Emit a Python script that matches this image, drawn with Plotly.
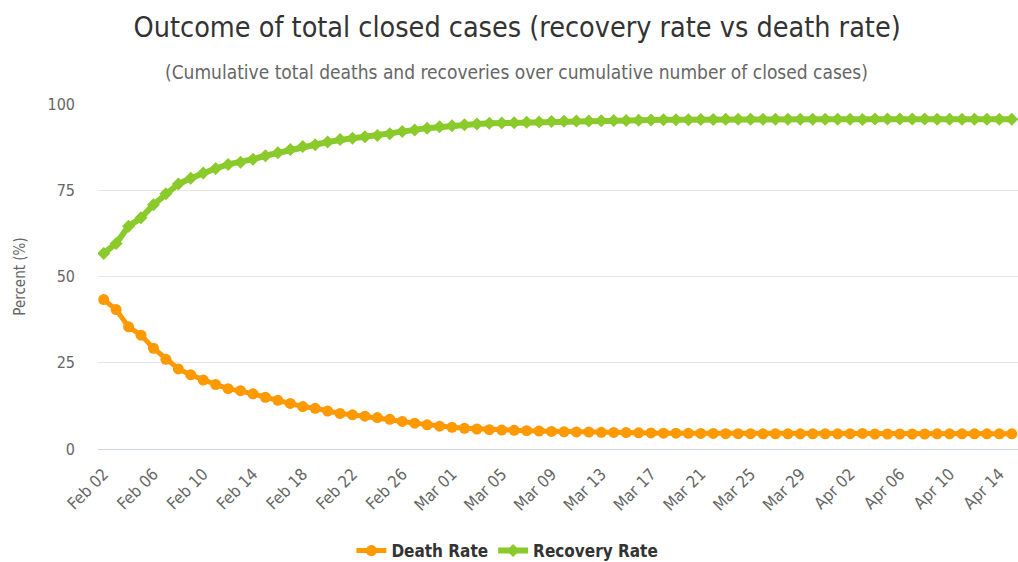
import pandas as pd
import plotly.graph_objects as go

start_date = "2020-02-02"
death_rate = [43.3, 40.4, 35.4, 33.0, 29.2, 26.0, 23.2, 21.5, 20.0, 18.7,
              17.5, 16.9, 16.0, 15.0, 14.1, 13.2, 12.3, 11.8, 11.0, 10.3,
              9.9, 9.5, 9.1, 8.6, 8.0, 7.5, 7.0, 6.6, 6.3, 6.0,
              5.8, 5.6, 5.5, 5.4, 5.3, 5.2, 5.1, 5.0, 4.95, 4.9,
              4.85, 4.8, 4.75, 4.7, 4.65, 4.6, 4.6, 4.55, 4.5, 4.5,
              4.45, 4.45, 4.45, 4.4, 4.4, 4.4, 4.4, 4.4, 4.4, 4.4,
              4.45, 4.5, 4.35, 4.35, 4.35, 4.35, 4.35, 4.4, 4.4, 4.4,
              4.4, 4.4, 4.4, 4.4]
recovery_rate = [56.7, 59.6, 64.6, 67.0, 70.8, 74.0, 76.8, 78.5, 80.0, 81.3,
                 82.5, 83.1, 84.0, 85.0, 85.9, 86.8, 87.7, 88.2, 89.0, 89.7,
                 90.1, 90.5, 90.9, 91.4, 92.0, 92.5, 93.0, 93.4, 93.7, 94.0,
                 94.2, 94.4, 94.5, 94.6, 94.7, 94.8, 94.9, 95.0, 95.05, 95.1,
                 95.15, 95.2, 95.25, 95.3, 95.35, 95.4, 95.4, 95.45, 95.5, 95.5,
                 95.55, 95.55, 95.55, 95.6, 95.6, 95.6, 95.6, 95.6, 95.6, 95.6,
                 95.55, 95.5, 95.65, 95.65, 95.65, 95.65, 95.65, 95.6, 95.6, 95.6,
                 95.6, 95.6, 95.6, 95.6]
tick_labels = ["Feb 02", "Feb 06", "Feb 10", "Feb 14", "Feb 18", "Feb 22", "Feb 26",
               "Mar 01", "Mar 05", "Mar 09", "Mar 13", "Mar 17", "Mar 21", "Mar 25",
               "Mar 29", "Apr 02", "Apr 06", "Apr 10", "Apr 14"]
y_ticks = [0, 25, 50, 75, 100]

dates = pd.date_range(start_date, periods=len(death_rate), freq="D")
tick_vals = pd.date_range(start_date, periods=len(tick_labels), freq="4D")

FONT = "Liberation Sans Narrow, DejaVu Sans Condensed, Arial Narrow, sans-serif"
ORANGE = "#FF9900"
GREEN = "#8ACA2B"

fig = go.Figure()
fig.add_trace(go.Scatter(
    x=dates, y=death_rate, name="Death Rate", mode="lines+markers",
    line=dict(color=ORANGE, width=5),
    marker=dict(color=ORANGE, size=11, symbol="circle"),
))
fig.add_trace(go.Scatter(
    x=dates, y=recovery_rate, name="Recovery Rate", mode="lines+markers",
    line=dict(color=GREEN, width=6),
    marker=dict(color=GREEN, size=10, symbol="diamond"),
))

fig.update_layout(
    width=1018, height=562,
    margin=dict(l=98, r=0, t=104, b=113, autoexpand=False),
    paper_bgcolor="white", plot_bgcolor="white",
    font=dict(family=FONT, color="#666666"),
    title=dict(
        text="Outcome of total closed cases (recovery rate vs death rate)",
        x=0.508, xanchor="center", y=0.952, yanchor="middle",
        font=dict(family=FONT, size=28.5, color="#333333"),
    ),
    annotations=[dict(
        text="(Cumulative total deaths and recoveries over cumulative number of closed cases)",
        xref="paper", yref="paper", x=(516 - 98) / 920.0, y=1.0 + (104 - 72) / 345.0,
        xanchor="center", yanchor="middle", showarrow=False,
        font=dict(family=FONT, size=19, color="#666666"),
    )],
    showlegend=True,
    legend=dict(
        orientation="h", x=0.445, xanchor="center", y=-(551 - 449) / 345.0, yanchor="middle",
        font=dict(family=FONT, size=17, color="#333333", weight="bold"),
        itemwidth=30, tracegroupgap=0,
    ),
)

fig.update_xaxes(
    range=[pd.Timestamp(start_date) - pd.Timedelta(hours=11), pd.Timestamp("2020-04-15 12:00")],
    tickvals=tick_vals, ticktext=tick_labels, tickangle=-45,
    tickfont=dict(family=FONT, size=16.5, color="#666666"),
    showgrid=False, showline=True, linecolor="#ccd6eb", linewidth=1,
    ticks="", zeroline=False, automargin=False, ticklabelstandoff=8,
)
fig.update_yaxes(
    range=[0, 100], tickvals=y_ticks,
    tickfont=dict(family=FONT, size=16, color="#666666"),
    showgrid=True, gridcolor="#e6e6e6", gridwidth=1,
    zeroline=False, showline=False, ticks="",
    ticklabelstandoff=22, automargin=False,
    title=dict(text="Percent (%)", font=dict(family=FONT, size=15, color="#666666"), standoff=18),
)

fig.write_html("out.html", post_script="document.body.style.margin='0';",
               config={"displayModeBar": False})
